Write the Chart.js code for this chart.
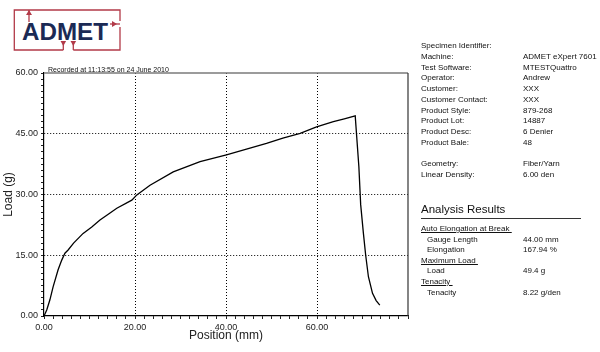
<!DOCTYPE html>
<html>
<head>
<meta charset="utf-8">
<script src="https://cdn.jsdelivr.net/npm/chart.js@4/dist/chart.umd.min.js"></script>
<style>
  html, body { margin: 0; padding: 0; background: #fff; }
  body { width: 600px; height: 352px; position: relative; overflow: hidden; font-family: Arial, "Liberation Sans", sans-serif; color: #111; }
  #wrap { position: absolute; left: 0; top: 0; width: 600px; height: 352px; }
  .t { position: absolute; white-space: nowrap; }
  .info { font-size: 8px; line-height: 10.7px; }
  .res { font-size: 8px; line-height: 10.6px; }
  .u { text-decoration: underline; }
</style>
</head>
<body>
<svg class="t" style="left:0;top:0" width="140" height="60" viewBox="0 0 140 60">
  <g stroke="#b23a48" stroke-width="1.3" fill="none">
    <polyline points="63.3,50 14.3,50 14.3,10 120,10 120,21"/>
    <polyline points="120,27 120,50 73.3,50"/>
    <line x1="29" y1="10" x2="29" y2="22"/>
    <line x1="63.3" y1="50" x2="63.3" y2="43"/>
    <line x1="73.3" y1="50" x2="73.3" y2="43"/>
    <line x1="110" y1="24" x2="120" y2="24"/>
  </g>
  <g fill="#b23a48">
    <polygon points="26,15 32,15 29,10"/>
    <polygon points="60.5,41 66.1,41 63.3,46"/>
    <polygon points="70.5,41 76.1,41 73.3,46"/>
    <polygon points="112,21 112,27 117,24"/>
  </g>
  <text x="22" y="40" font-family="Arial, 'Liberation Sans', sans-serif" font-weight="bold" font-size="23.5" fill="#1b2a55" textLength="86" lengthAdjust="spacingAndGlyphs">ADMET</text>
</svg>

<div id="wrap"><canvas id="c" width="600" height="352"></canvas></div>

<div class="t" style="left:48px;top:64.5px;font-size:7px;line-height:9px;">Recorded at 11:13:55 on 24 June 2010</div>

<div id="info" class="t info" style="left:421px;top:41.3px;"></div>
<div id="infoV" class="t info" style="left:523px;top:41.3px;"></div>

<div class="t" style="left:421px;top:201px;font-size:11.5px;line-height:16px;">Analysis Results</div>
<div class="t" style="left:421px;top:218px;width:160px;height:0;border-top:1px solid #333;"></div>
<div id="res" class="t res" style="left:421px;top:224px;"></div>
<div id="resV" class="t res" style="left:523px;top:224px;"></div>

<script>
// ---- Chart data ----
const positionMm = [0, 0.6, 1.3, 2.0, 3.1, 3.9, 4.6, 5.3, 6.5, 8.6, 10.5, 12.3, 14.2, 16.0, 19.3, 20.4, 23.3, 28.4, 34.3, 40.1, 44.5, 48.9, 52.5, 56.3, 59.9, 63.6, 66.0, 68.4, 68.7, 69.2, 69.6, 70.2, 70.7, 71.3, 72.2, 73.0, 73.8];
const loadG      = [0, 1.5, 4.0, 7.2, 11.4, 13.8, 15.5, 16.3, 18.0, 20.4, 22.0, 23.7, 25.2, 26.6, 28.6, 29.9, 32.3, 35.6, 38.1, 39.8, 41.2, 42.6, 43.9, 45.1, 46.7, 48.0, 48.7, 49.4, 44.7, 36.9, 27.5, 20.4, 15.0, 9.7, 5.6, 3.8, 2.7];

const xMajorTicks = [0, 20, 40, 60];
const yMajorTicks = [0, 15, 30, 45, 60];
const xAxisTitle = "Position (mm)";
const yAxisTitle = "Load (g)";

// ---- Side panel texts ----
const infoLabels = ["Specimen Identifier:", "Machine:", "Test Software:", "Operator:", "Customer:", "Customer Contact:", "Product Style:", "Product Lot:", "Product Desc:", "Product Bale:", "", "Geometry:", "Linear Density:"];
const infoValues = ["", "ADMET eXpert 7601", "MTESTQuattro", "Andrew", "XXX", "XXX", "879-268", "14887", "6 Denier", "48", "", "Fiber/Yarn", "6.00 den"];
const resultLabels = [
  ["Auto Elongation at Break", true], ["Gauge Length", false], ["Elongation", false],
  ["Maximum Load", true], ["Load", false], ["Tenacity", true], ["Tenacity", false]
];
const resultValues = ["", "44.00 mm", "167.94 %", "", "49.4 g", "", "8.22 g/den"];

document.getElementById('info').innerHTML = infoLabels.map(s => '<div>' + (s || '&nbsp;') + '</div>').join('');
document.getElementById('infoV').innerHTML = infoValues.map(s => '<div>' + (s || '&nbsp;') + '</div>').join('');
document.getElementById('res').innerHTML = resultLabels.map(([s, h]) =>
  h ? '<div><span class="u">' + s + '&nbsp;</span></div>' : '<div style="padding-left:6px">' + s + '</div>').join('');
document.getElementById('resV').innerHTML = resultValues.map(s => '<div>' + (s || '&nbsp;') + '</div>').join('');

const isMajor = (v, arr) => arr.some(m => Math.abs(m - v) < 1e-6);

const frame = {
  id: 'frame',
  afterDraw(chart) {
    const {ctx, chartArea: a} = chart;
    ctx.save();
    ctx.strokeStyle = '#7a7a7a';
    ctx.lineWidth = 1.5;
    ctx.beginPath(); ctx.moveTo(a.left, a.top); ctx.lineTo(a.right, a.top); ctx.stroke();
    ctx.strokeStyle = '#333';
    ctx.lineWidth = 1.2;
    ctx.beginPath(); ctx.moveTo(a.right, a.top); ctx.lineTo(a.right, a.bottom); ctx.stroke();
    ctx.restore();
  }
};

const tickFont = { family: "Arial, 'Liberation Sans', sans-serif", size: 9 };
const titleFont = { family: "Arial, 'Liberation Sans', sans-serif", size: 12 };

new Chart(document.getElementById('c'), {
  type: 'scatter',
  data: {
    datasets: [{
      data: positionMm.map((x, i) => ({ x, y: loadG[i] })),
      showLine: true,
      borderColor: '#000',
      borderWidth: 1.3,
      pointRadius: 0,
      tension: 0,
      fill: false
    }]
  },
  options: {
    responsive: false,
    animation: false,
    events: [],
    layout: { padding: { top: 73, right: 192, left: 0, bottom: 0 } },
    plugins: { legend: { display: false }, tooltip: { enabled: false }, title: { display: false } },
    scales: {
      x: {
        type: 'linear', min: 0, max: 80,
        afterFit(s) { s.height = 36; },
        ticks: {
          stepSize: 2, autoSkip: false, maxRotation: 0, padding: 3,
          font: tickFont, color: '#222',
          callback: v => (isMajor(v, xMajorTicks) ? v.toFixed(2) : '')
        },
        grid: {
          color: c => (c.tick && isMajor(c.tick.value, xMajorTicks) && c.tick.value > 0 ? '#000' : 'rgba(0,0,0,0)'),
          lineWidth: 1,
          tickColor: '#222', tickLength: 3, tickWidth: 1
        },
        border: { display: true, color: '#000', width: 1.2, dash: [1, 2] },
        title: { display: true, text: xAxisTitle, font: titleFont, color: '#222', padding: { top: 0, bottom: 9 } }
      },
      y: {
        type: 'linear', min: 0, max: 60,
        afterFit(s) { s.width = 44; },
        ticks: {
          stepSize: 1.5, autoSkip: false, padding: 3,
          font: tickFont, color: '#222',
          callback: v => (isMajor(v, yMajorTicks) ? v.toFixed(2) : '')
        },
        grid: {
          color: c => (c.tick && isMajor(c.tick.value, yMajorTicks) && c.tick.value > 0 && c.tick.value < 60 ? '#000' : 'rgba(0,0,0,0)'),
          lineWidth: 1,
          tickColor: '#222', tickLength: 3, tickWidth: 1
        },
        border: { display: true, color: '#000', width: 1.2, dash: [1, 2] },
        title: { display: true, text: yAxisTitle, font: titleFont, color: '#222', padding: { top: 1, bottom: 0 } }
      }
    }
  },
  plugins: [frame]
});
</script>
</body>
</html>
